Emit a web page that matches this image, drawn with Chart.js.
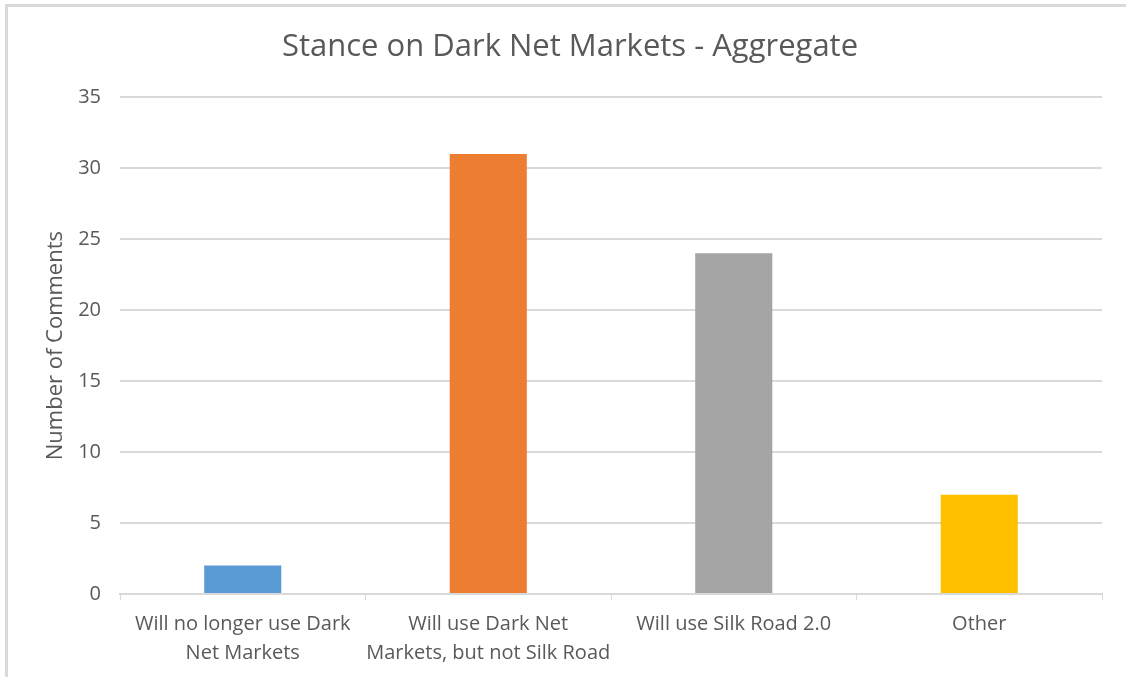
<!DOCTYPE html>
<html>
<head>
<meta charset="utf-8">
<script src="https://cdn.jsdelivr.net/npm/chart.js@4/dist/chart.umd.min.js"></script>
<style>
  html, body { margin: 0; padding: 0; background: #ffffff; }
  #frame { position: absolute; left: 5px; top: 4px; width: 1200px; height: 760px;
           border-left: 3px solid #d9d9d9; border-top: 3px solid #d9d9d9; }
  #wrap { position: absolute; left: 0; top: 0; width: 1126px; height: 677px; }
</style>
</head>
<body>
<div id="frame"></div>
<div id="wrap"><canvas id="c" width="1126" height="677"></canvas></div>
<script>
const chartTitle = "Stance on Dark Net Markets - Aggregate";
const yAxisTitle = "Number of Comments";
const categories = [
  ["Will no longer use Dark", "Net Markets"],
  ["Will use Dark Net", "Markets, but not Silk Road"],
  ["Will use Silk Road 2.0"],
  ["Other"]
];
const values = [2, 31, 24, 7];
const barColors = ["#5B9BD5", "#ED7D31", "#A5A5A5", "#FFC000"];
const yMin = 0, yMax = 35, yStep = 5;

const textColor = "#595959";
const gridColor = "#d9d9d9";
const fontFamily = "'Open Sans', 'Noto Sans', sans-serif";

new Chart(document.getElementById('c'), {
  type: 'bar',
  data: {
    labels: categories,
    datasets: [{
      data: values,
      backgroundColor: barColors,
      borderWidth: 0,
      barPercentage: 0.314,
      categoryPercentage: 1.0
    }]
  },
  options: {
    responsive: false,
    animation: false,
    devicePixelRatio: 1,
    layout: { padding: { left: 38, right: 24, top: 0, bottom: 0 } },
    plugins: {
      legend: { display: false },
      tooltip: { enabled: false },
      title: {
        display: true,
        text: chartTitle,
        color: textColor,
        font: { family: fontFamily, size: 31, weight: 'normal', lineHeight: 1.2 },
        padding: { top: 29, bottom: 31 }
      }
    },
    scales: {
      x: {
        grid: { display: true, drawOnChartArea: false, offset: true, color: gridColor, tickLength: 6, lineWidth: 1 },
        border: { display: true, color: gridColor, width: 2 },
        ticks: {
          color: textColor,
          font: { family: fontFamily, size: 20, lineHeight: 1.45 },
          padding: 10,
          maxRotation: 0,
          autoSkip: false
        },
        afterFit: (s) => { s.height = 83; }
      },
      y: {
        min: yMin, max: yMax,
        ticks: { stepSize: yStep, color: textColor, font: { family: fontFamily, size: 20 }, padding: 19 },
        grid: { color: gridColor, lineWidth: 2, drawTicks: false },
        border: { display: false },
        title: {
          display: true,
          text: yAxisTitle,
          color: textColor,
          font: { family: fontFamily, size: 22, weight: 'normal' },
          padding: { top: 5, bottom: 0 }
        },
        afterFit: (s) => { s.width = 82; }
      }
    }
  }
});
</script>
</body>
</html>
